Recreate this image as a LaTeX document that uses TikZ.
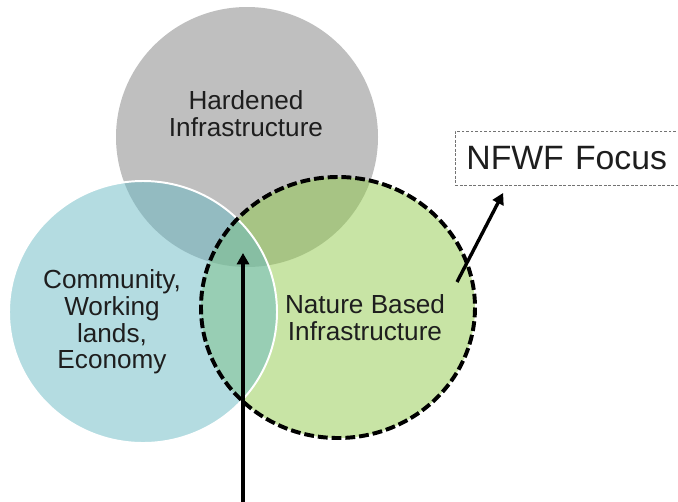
\documentclass[tikz,border=0pt]{standalone}
\usepackage{fontspec}
\setmainfont{Liberation Sans}
\usepackage{tikz}
\usetikzlibrary{arrows.meta}
\definecolor{hardgrey}{RGB}{191,191,191}
\definecolor{commblue}{RGB}{105,185,195}
\definecolor{naturegreen}{RGB}{145,201,75}
\definecolor{labelink}{RGB}{30,30,30}
\tikzset{
	circletext/.style={font=\fontsize{18.6}{19}\selectfont, text=labelink, align=center, inner sep=0pt},
	pointer/.style={line width=2.4pt, -{Triangle[length=8pt,width=8.5pt]}},
	focusbox/.style={draw=black!55, dash pattern=on 2pt off 1.2pt, line width=0.6pt,
		font=\fontsize{24}{26}\selectfont, text=labelink, text width=5.3cm, align=left,
		inner xsep=7.8pt, minimum height=1.35cm}
}

\begin{document}
\begin{tikzpicture}[x=0.025cm,y=-0.025cm]
			%%%%% START %%%%%
			\useasboundingbox (0,0) rectangle (678,501);
			\clip (0,0) rectangle (678,501);
			
			\coordinate (hard) at (247,137);
			\coordinate (comm) at (143,312);
			\coordinate (nature) at (338,307.5);
			
			\fill[hardgrey] (hard) ellipse [x radius=131, y radius=130];
			\fill[naturegreen, fill opacity=0.5] (nature) ellipse [x radius=137, y radius=130.5];
			\fill[commblue, fill opacity=0.5] (comm) ellipse [x radius=134, y radius=131];
			\draw[white, line width=1.4pt] (comm) ellipse [x radius=134, y radius=131];
			\draw[black, line width=2.8pt, dash pattern=on 7pt off 2.8pt] (nature) ellipse [x radius=137, y radius=130.5];
			
			\node[circletext] (hardtxt) at (246,114) {Hardened\\Infrastructure};
			\node[circletext] (commtxt) at (112,322) {Community,\\Working\\lands,\\Economy};
			\node[circletext] (naturetxt) at (365,318) {Nature Based\\Infrastructure};
			
			\node[focusbox, anchor=west] (focus) at (455,158) {NFWF Focus};
			
			\coordinate (core) at (243,253);
			\coordinate (below) at (243,510);
			\coordinate (focustail) at (457,282);
			
			\draw[pointer] (below) -- (core);
			\draw[pointer, shorten >=6pt] (focustail) -- ([xshift=1.3cm]focus.south west);
			%%%%% END %%%%%
\end{tikzpicture}
\end{document}
